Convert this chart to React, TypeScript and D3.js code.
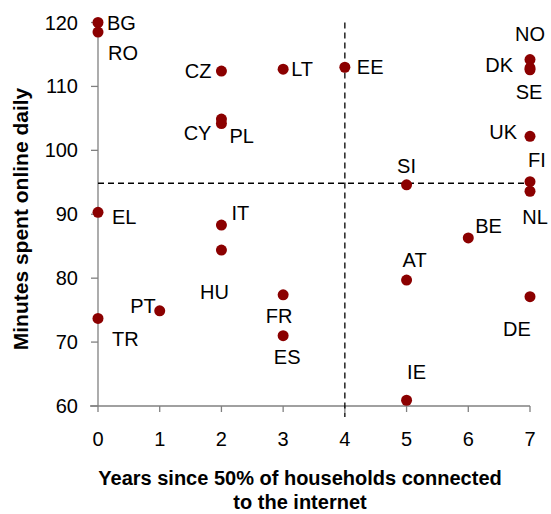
import React, { useEffect, useRef } from "react";
import * as d3 from "d3";

const countries = ["BG", "RO", "CZ", "LT", "EE", "NO", "DK", "SE", "CY", "PL", "UK", "FI", "NL", "SI", "EL", "IT", "HU", "PT", "TR", "FR", "ES", "BE", "AT", "DE", "IE"];
const years = [0, 0, 2, 3, 4, 7, 7, 7, 2, 2, 7, 7, 7, 5, 0, 2, 2, 1, 0, 3, 3, 6, 5, 7, 5];
const minutes = [120.0, 118.5, 112.4, 112.7, 113.0, 114.2, 112.9, 112.6, 104.9, 104.2, 102.2, 95.1, 93.6, 94.6, 90.3, 88.3, 84.4, 74.9, 73.7, 77.4, 71.0, 86.3, 79.7, 77.1, 60.9];

const xTicks = [0, 1, 2, 3, 4, 5, 6, 7];
const yTicks = [60, 70, 80, 90, 100, 110, 120];
const avgYears = 4;
const avgMinutes = 94.85;

// label placement: [dx, dy, anchor]
const labelPos: Record<string, [number, number, string]> = {
  BG: [9, 0, "start"], RO: [10, 21, "start"], CZ: [-10, 0, "end"], LT: [8, 0, "start"],
  EE: [12, 0, "start"], NO: [0, -26, "middle"], DK: [-17, -3, "end"], SE: [-1, 22, "middle"],
  CY: [-10, 14, "end"], PL: [8, 13, "start"], UK: [-13, -4, "end"], FI: [7, -22, "middle"],
  NL: [5, 26, "middle"], SI: [0, -19, "middle"], EL: [14, 5, "start"], IT: [10, -12, "start"],
  HU: [-7, 42, "middle"], PT: [-4, -5, "end"], TR: [14, 21, "start"], FR: [-4, 21, "middle"],
  ES: [4, 21, "middle"], BE: [7, -12, "start"], AT: [8, -20, "middle"], DE: [-13, 32, "middle"],
  IE: [10, -28, "middle"],
};

const App = () => {
  const svgRef = useRef<SVGSVGElement>(null);

  useEffect(() => {
    const width = 551, height = 514;
    const font = "Arial, 'Liberation Sans', sans-serif";
    const axisColor = "#808080";
    const fs = 20;

    const x = d3.scaleLinear().domain([0, 7]).range([98, 530]);
    const y = d3.scaleLinear().domain([60, 120]).range([406, 22.5]);

    const svg = d3.select(svgRef.current).attr("width", width).attr("height", height);
    svg.selectAll("*").remove();

    // x axis
    const gx = svg.append("g").attr("transform", `translate(0,${y(60)})`);
    gx.append("line").attr("x1", 90).attr("x2", x(7)).attr("stroke", axisColor).attr("stroke-width", 1.3);
    gx.selectAll("line.tick").data(xTicks).enter().append("line")
      .attr("class", "tick").attr("x1", d => x(d)).attr("x2", d => x(d))
      .attr("y1", 0).attr("y2", 6).attr("stroke", axisColor).attr("stroke-width", 1.3);
    gx.selectAll("text").data(xTicks).enter().append("text")
      .attr("x", d => x(d)).attr("y", 40).attr("text-anchor", "middle")
      .attr("font-family", font).attr("font-size", fs).attr("fill", "#000").text(d => d);

    // y axis
    const gy = svg.append("g").attr("transform", `translate(${x(0)},0)`);
    gy.append("line").attr("y1", y(120)).attr("y2", y(60)).attr("stroke", axisColor).attr("stroke-width", 1.3);
    gy.selectAll("line.tick").data(yTicks).enter().append("line")
      .attr("class", "tick").attr("x1", -7).attr("x2", 0)
      .attr("y1", d => y(d)).attr("y2", d => y(d)).attr("stroke", axisColor).attr("stroke-width", 1.3);
    gy.selectAll("text").data(yTicks).enter().append("text")
      .attr("x", -20).attr("y", d => y(d)).attr("dy", "0.35em").attr("text-anchor", "end")
      .attr("font-family", font).attr("font-size", fs).attr("fill", "#000").text(d => d);

    // reference lines
    svg.append("line").attr("x1", x(avgYears)).attr("x2", x(avgYears))
      .attr("y1", y(120)).attr("y2", y(60) + 11)
      .attr("stroke", "#000").attr("stroke-width", 1.3).attr("stroke-dasharray", "6,4");
    svg.append("line").attr("x1", x(0)).attr("x2", x(7))
      .attr("y1", y(avgMinutes)).attr("y2", y(avgMinutes))
      .attr("stroke", "#000").attr("stroke-width", 1.3).attr("stroke-dasharray", "6,4");

    // points
    const data = countries.map((c, i) => ({ c, yr: years[i], m: minutes[i] }));
    svg.append("g").selectAll("circle").data(data).enter().append("circle")
      .attr("cx", d => x(d.yr)).attr("cy", d => y(d.m)).attr("r", 5.5).attr("fill", "#8b0000");

    svg.append("g").selectAll("text").data(data).enter().append("text")
      .attr("x", d => x(d.yr) + labelPos[d.c][0])
      .attr("y", d => y(d.m) + labelPos[d.c][1])
      .attr("dy", "0.35em")
      .attr("text-anchor", d => labelPos[d.c][2])
      .attr("font-family", font).attr("font-size", fs).attr("fill", "#000")
      .text(d => d.c);

    // axis titles
    const xt = svg.append("text").attr("text-anchor", "middle")
      .attr("font-family", font).attr("font-size", fs).attr("font-weight", "bold").attr("fill", "#000");
    xt.append("tspan").attr("x", 300).attr("y", 485).text("Years since 50% of households connected");
    xt.append("tspan").attr("x", 300).attr("y", 509).text("to the internet");

    svg.append("text").attr("transform", "translate(28,219) rotate(-90)")
      .attr("text-anchor", "middle")
      .attr("font-family", font).attr("font-size", 21).attr("font-weight", "bold").attr("fill", "#000")
      .text("Minutes spent online daily");
  }, []);

  return <svg ref={svgRef} style={{ position: "absolute", left: 0, top: 0 }}></svg>;
};

export default App;
